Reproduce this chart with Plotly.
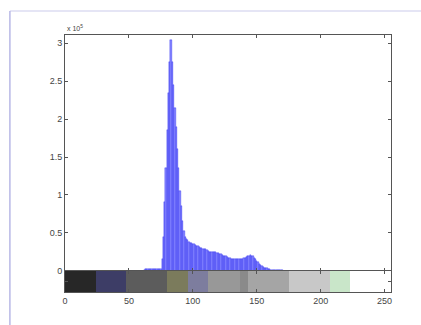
import plotly.graph_objects as go

# histogram bins (intensity levels) and counts in units of 10^5
levels = list(range(60, 171))
counts = [0, 0, 0.01, 0.02, 0.02, 0.02, 0.02, 0.02, 0.02, 0.02, 0.02, 0.02, 0.02, 0.02, 0.02, 0.02,
          0.15, 0.45, 0.9, 1.35, 1.85, 2.35, 2.75, 3.05, 2.75, 2.45, 2.15, 1.9, 1.6, 1.35,
          1.05, 0.85, 0.65, 0.52, 0.45, 0.42, 0.40, 0.38, 0.37, 0.36,
          0.35, 0.35, 0.34, 0.33, 0.32, 0.31, 0.30, 0.30, 0.29, 0.29,
          0.28, 0.27, 0.26, 0.25, 0.25, 0.25, 0.24, 0.24, 0.24, 0.23,
          0.23, 0.22, 0.22, 0.21, 0.20, 0.20, 0.19, 0.18, 0.17, 0.17,
          0.16, 0.16, 0.16, 0.16, 0.16, 0.16, 0.16, 0.16, 0.16, 0.16,
          0.17, 0.17, 0.18, 0.19, 0.20, 0.21, 0.20, 0.19, 0.17, 0.15,
          0.13, 0.11, 0.09, 0.07, 0.06, 0.05, 0.04, 0.035, 0.03, 0.025,
          0.02, 0.015, 0.015, 0.015, 0.015, 0.015, 0.015, 0.01, 0.01, 0.01, 0.005]

# colormap strip segments: start level, end level, colour
seg_start = [0, 24, 48, 80, 96, 112, 137, 143, 175, 207, 223]
seg_end = [24, 48, 80, 96, 112, 137, 143, 175, 207, 223, 255]
seg_colors = ["#272727", "#3d3d66", "#5c5c5c", "#7b7b5c", "#7d7d9e", "#989898",
              "#8a8a8a", "#a5a5a5", "#c8c8c8", "#c9e6c9", "#ffffff"]

x_ticks = [0, 50, 100, 150, 200, 250]
y_ticks = [0, 0.5, 1, 1.5, 2, 2.5, 3]
y_tick_text = ["0", "0.5", "1", "1.5", "2", "2.5", "3"]

fig = go.Figure()
fig.add_trace(go.Bar(x=levels, y=counts, width=1.0,
                     marker=dict(color="#8686ff", line=dict(color="#2020ee", width=0.35)),
                     xaxis="x", yaxis="y", showlegend=False))
fig.add_trace(go.Bar(x=[(s + e) / 2 for s, e in zip(seg_start, seg_end)],
                     y=[1] * len(seg_start),
                     width=[e - s for s, e in zip(seg_start, seg_end)],
                     marker=dict(color=seg_colors, line=dict(width=0)),
                     xaxis="x2", yaxis="y2", showlegend=False))

axis_common = dict(showline=True, linecolor="#555", linewidth=1, mirror="ticks",
                   ticks="inside", ticklen=3, tickcolor="#555", showgrid=False,
                   zeroline=False, tickfont=dict(family="Liberation Sans", size=9, color="#444"))

fig.update_layout(
    width=421, height=325,
    margin=dict(l=65, r=30, t=35, b=33),
    paper_bgcolor="white", plot_bgcolor="white",
    bargap=0,
    xaxis=dict(range=[0, 255], domain=[0, 1], anchor="y", tickvals=x_ticks,
               showticklabels=False, **axis_common),
    yaxis=dict(range=[0, 3.11], domain=[0.083, 1], anchor="x", tickvals=y_ticks,
               ticktext=y_tick_text, **axis_common),
    xaxis2=dict(range=[0, 255], domain=[0, 1], anchor="y2", tickvals=x_ticks,
                **axis_common),
    yaxis2=dict(range=[0, 1], domain=[0, 0.083], anchor="x2", tickvals=[0.5],
                showticklabels=False, **axis_common),
    annotations=[dict(text="x 10<sup>5</sup>", x=0, y=1.005, xref="paper", yref="paper",
                      xanchor="left", yanchor="bottom", showarrow=False,
                      font=dict(family="Liberation Sans", size=7, color="#444"))],
    shapes=[
        dict(type="line", xref="paper", yref="paper", x0=-0.169, x1=1.1, y0=1.093, y1=1.093,
             line=dict(color="#dcdcf2", width=1.5)),
        dict(type="line", xref="paper", yref="paper", x0=-0.169, x1=-0.169, y0=-0.13, y1=1.093,
             line=dict(color="#b8b8e6", width=1.5)),
    ],
)

fig.write_html("out.html")
